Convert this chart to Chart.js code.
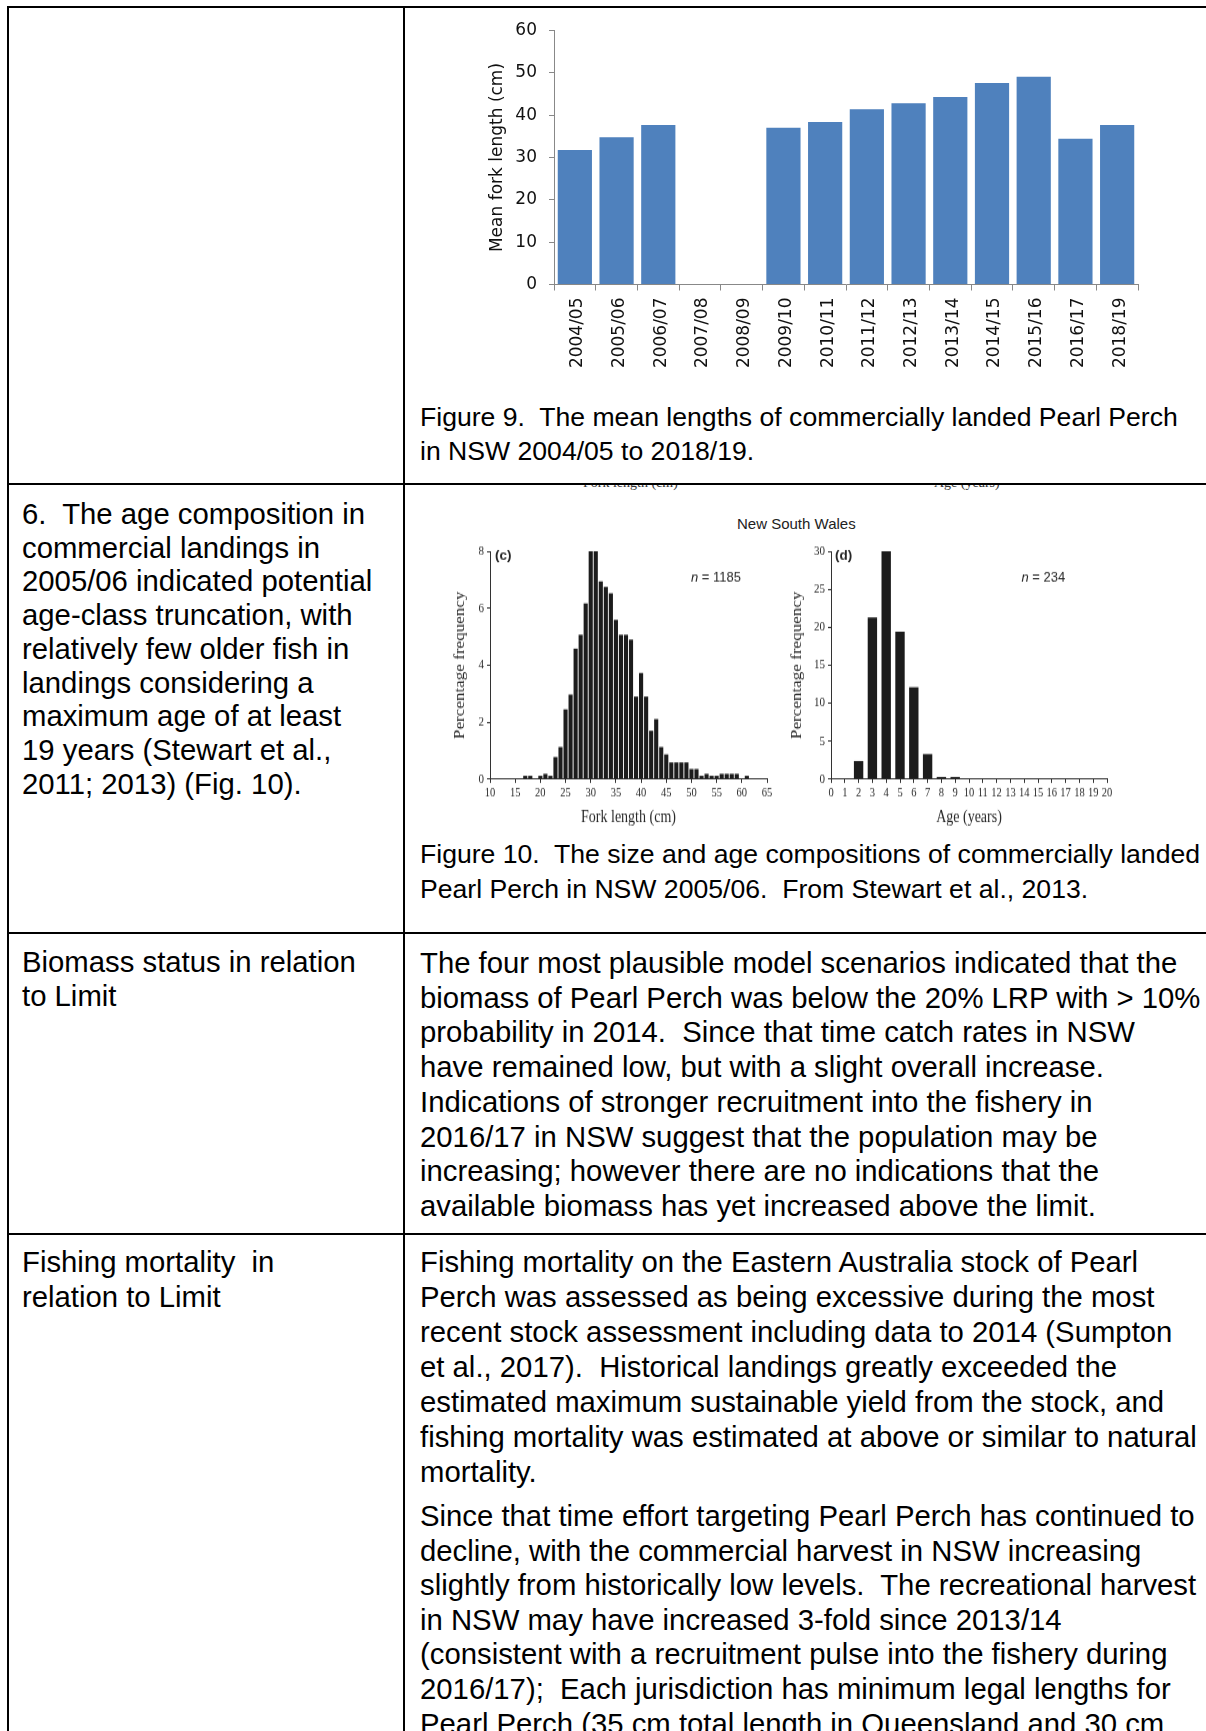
<!DOCTYPE html>
<html lang="en">
<head>
<meta charset="utf-8">
<title>Pearl Perch – NSW stock status</title>
<script src="https://cdn.jsdelivr.net/npm/chart.js@4.4.1/dist/chart.umd.min.js"></script>
<style>
  html, body { margin: 0; padding: 0; background: #fff; }
  body { position: relative; width: 1206px; height: 1731px; overflow: hidden;
         font-family: "Liberation Sans", Arial, sans-serif; color: #000; }
  .rule { position: absolute; background: #000; }
  .para { position: absolute; font-size: 29.3px; white-space: pre; }
  .caption { font-size: 26.6px; }
  .stretch { position: absolute; transform-origin: 0 0; transform: scaleY(1.22); }
  .frag { position: absolute; top: 485px; height: 8px; overflow: hidden; width: 200px; }
  .frag span { position: absolute; left: 0; top: -9px; font-family: "Liberation Serif", serif;
               font-size: 14px; line-height: 14px; color: #333; white-space: nowrap; }
  .region { position: absolute; font-size: 15px; color: #222; white-space: nowrap; }
</style>
</head>
<body>

<!-- table rules -->
<div class="rule" style="left:7px;top:6px;width:1300px;height:2px"></div>
<div class="rule" style="left:7px;top:483px;width:1300px;height:2px"></div>
<div class="rule" style="left:7px;top:932px;width:1300px;height:2px"></div>
<div class="rule" style="left:7px;top:1233px;width:1300px;height:2px"></div>
<div class="rule" style="left:7px;top:6px;width:2px;height:1800px"></div>
<div class="rule" style="left:403px;top:6px;width:2px;height:1800px"></div>

<!-- Figure 9 -->
<canvas id="fig9" width="800" height="380" style="position:absolute;left:404px;top:8px"></canvas>
<div class="para caption" style="left:420px;top:399.5px;line-height:34.2px">Figure 9.  The mean lengths of commercially landed Pearl Perch
in NSW 2004/05 to 2018/19.</div>

<!-- row 2 -->
<div class="para" style="left:22px;top:497px;line-height:33.7px">6.  The age composition in
commercial landings in
2005/06 indicated potential
age-class truncation, with
relatively few older fish in
landings considering a
maximum age of at least
19 years (Stewart et al.,
2011; 2013) (Fig. 10).</div>

<!-- Figure 10 -->
<div class="frag" style="left:583px"><span>Fork length (cm)</span></div>
<div class="frag" style="left:934px"><span>Age (years)</span></div>
<div class="region" style="left:737px;top:515px">New South Wales</div>
<div class="stretch" style="left:440px;top:538.8px;width:335px;height:241px"><canvas id="figC" width="335" height="241"></canvas></div>
<div class="stretch" style="left:780px;top:538.8px;width:338px;height:241px"><canvas id="figD" width="338" height="241"></canvas></div>
<div class="para caption" style="left:420px;top:836.5px;line-height:35px">Figure 10.  The size and age compositions of commercially landed
Pearl Perch in NSW 2005/06.  From Stewart et al., 2013.</div>

<!-- row 3 -->
<div class="para" style="left:22px;top:945px;line-height:34px">Biomass status in relation
to Limit</div>
<div class="para" style="left:420px;top:946px;line-height:34.7px">The four most plausible model scenarios indicated that the
biomass of Pearl Perch was below the 20% LRP with > 10%
probability in 2014.  Since that time catch rates in NSW
have remained low, but with a slight overall increase.
Indications of stronger recruitment into the fishery in
2016/17 in NSW suggest that the population may be
increasing; however there are no indications that the
available biomass has yet increased above the limit.</div>

<!-- row 4 -->
<div class="para" style="left:22px;top:1245px;line-height:34.6px">Fishing mortality  in
relation to Limit</div>
<div class="para" style="left:420px;top:1245px;line-height:34.97px">Fishing mortality on the Eastern Australia stock of Pearl
Perch was assessed as being excessive during the most
recent stock assessment including data to 2014 (Sumpton
et al., 2017).  Historical landings greatly exceeded the
estimated maximum sustainable yield from the stock, and
fishing mortality was estimated at above or similar to natural
mortality.</div>
<div class="para" style="left:420px;top:1499px;line-height:34.6px">Since that time effort targeting Pearl Perch has continued to
decline, with the commercial harvest in NSW increasing
slightly from historically low levels.  The recreational harvest
in NSW may have increased 3-fold since 2013/14
(consistent with a recruitment pulse into the fishery during
2016/17);  Each jurisdiction has minimum legal lengths for
Pearl Perch (35 cm total length in Queensland and 30 cm</div>

<script>
// ---- Figure 9: mean fork length of commercial landings by season ----
const seasons = ['2004/05', '2005/06', '2006/07', '2007/08', '2008/09', '2009/10', '2010/11',
                 '2011/12', '2012/13', '2013/14', '2014/15', '2015/16', '2016/17', '2018/19'];
const meanForkLength = [31.8, 34.8, 37.7, null, null, 37.0, 38.4, 41.4, 42.8, 44.3, 47.6, 49.1, 34.4, 37.7];
const meanLengthTicks = [0, 10, 20, 30, 40, 50, 60];

// ---- Figure 10 (c): fork length composition, 2005/06 (n = 1185) ----
const forkLengthCm = [17, 18, 20, 21, 22, 23, 24, 25, 26, 27, 28, 29, 30, 31, 32, 33, 34, 35, 36, 37, 38, 39,
                      40, 41, 42, 43, 44, 45, 46, 47, 48, 49, 50, 51, 52, 53, 54, 55, 56, 57, 58, 59, 61];
const forkLengthPct = [0.12, 0.12, 0.12, 0.19, 0.12, 0.78, 1.13, 2.45, 2.97, 4.58, 5.07, 6.17, 8.0, 8.0,
                       6.94, 6.75, 6.52, 5.59, 5.07, 5.07, 4.9, 2.9, 3.73, 2.9, 1.7, 2.11, 1.13, 0.87,
                       0.59, 0.59, 0.59, 0.59, 0.36, 0.36, 0.12, 0.19, 0.12, 0.12, 0.19, 0.19, 0.19, 0.19, 0.12];
const forkLengthTicks = [10, 15, 20, 25, 30, 35, 40, 45, 50, 55, 60, 65];
const forkPctTicks = [0, 2, 4, 6, 8];

// ---- Figure 10 (d): age composition, 2005/06 (n = 234) ----
const ageYears = [2, 3, 4, 5, 6, 7, 8, 9];
const agePct = [2.4, 21.3, 30.0, 19.4, 12.1, 3.3, 0.3, 0.3];
const ageTicks = [0, 1, 2, 3, 4, 5, 6, 7, 8, 9, 10, 11, 12, 13, 14, 15, 16, 17, 18, 19, 20];
const agePctTicks = [0, 5, 10, 15, 20, 25, 30];

const STRETCH = 1.22;   // vertical scale applied to the Figure 10 panels

const fixedTicks = list => scale => { scale.ticks = list.map(v => ({ value: v })); };

// Figure 9 --------------------------------------------------------------
const f9Font = { family: '"DejaVu Sans", Verdana, sans-serif', size: 17 };
new Chart(document.getElementById('fig9'), {
  type: 'bar',
  data: {
    labels: seasons,
    datasets: [{
      data: meanForkLength,
      backgroundColor: '#4F81BD',
      categoryPercentage: 1,
      barPercentage: 0.82
    }]
  },
  options: {
    responsive: false,
    animation: false,
    events: [],
    layout: { padding: { left: 79.8, right: 66, top: 22.5, bottom: 0 } },
    plugins: { legend: { display: false }, tooltip: { enabled: false } },
    scales: {
      x: {
        grid: { offset: true, drawOnChartArea: false, tickLength: 6, color: '#888' },
        border: { color: '#888' },
        ticks: { autoSkip: false, minRotation: 90, maxRotation: 90, padding: 7, labelOffset: 3,
                 color: '#111', font: f9Font },
        afterFit: s => { s.height = 103.5; }
      },
      y: {
        min: 0, max: 60,
        afterBuildTicks: fixedTicks(meanLengthTicks),
        grid: { drawOnChartArea: false, tickLength: 5, color: '#888' },
        border: { color: '#888' },
        ticks: { padding: 12, color: '#111', font: f9Font },
        title: { display: true, text: 'Mean fork length (cm)', color: '#111', font: f9Font,
                 padding: { top: 4, bottom: 4 } },
        afterFit: s => { s.width = 70.2; }
      }
    }
  }
});

// Figure 10 panels --------------------------------------------------------
const panelNotes = {
  id: 'panelNotes',
  afterDraw(chart, _args, opts) {
    const { ctx, chartArea } = chart;
    (opts.items || []).forEach(item => {
      ctx.save();
      ctx.translate(chartArea.left + item.dx, chartArea.top + item.dy / STRETCH);
      ctx.scale(1, 1 / STRETCH);
      ctx.textBaseline = 'middle';
      ctx.fillStyle = '#262626';
      let x = 0;
      item.runs.forEach(run => {
        ctx.font = run.font;
        ctx.fillText(run.text, x, 0);
        x += ctx.measureText(run.text).width;
      });
      ctx.restore();
    });
  }
};

const serif = '"Liberation Serif", "Times New Roman", serif';
const sans = '"Liberation Sans", Arial, sans-serif';

function histogram(canvasId, cfg) {
  return new Chart(document.getElementById(canvasId), {
    type: 'bar',
    data: {
      datasets: [{
        data: cfg.xs.map((x, i) => ({ x, y: cfg.ys[i] })),
        backgroundColor: '#1c1c1c',
        categoryPercentage: 1,
        barPercentage: cfg.barPct
      }]
    },
    options: {
      responsive: false,
      animation: false,
      events: [],
      layout: { padding: { left: cfg.padLeft, right: cfg.padRight, top: 10, bottom: 0 } },
      plugins: {
        legend: { display: false },
        tooltip: { enabled: false },
        panelNotes: { items: cfg.notes }
      },
      scales: {
        x: {
          type: 'linear', offset: false,
          min: cfg.xTicks[0], max: cfg.xTicks[cfg.xTicks.length - 1],
          afterBuildTicks: fixedTicks(cfg.xTicks),
          grid: { offset: false, drawOnChartArea: false, tickLength: 3, color: '#333' },
          border: { color: '#333' },
          ticks: { autoSkip: false, maxRotation: 0, padding: 2.2, color: '#2a2a2a',
                   font: { family: serif, size: 10.5 } },
          title: { display: true, text: cfg.xTitle, color: '#2a2a2a',
                   font: { family: serif, size: 14 }, padding: { top: 4, bottom: 4 } },
          afterFit: s => { s.height = cfg.xAxisHeight; }
        },
        y: {
          min: 0, max: cfg.yTicks[cfg.yTicks.length - 1],
          afterBuildTicks: fixedTicks(cfg.yTicks),
          grid: { drawOnChartArea: false, tickLength: 3, color: '#333' },
          border: { color: '#333' },
          ticks: { padding: 3, color: '#2a2a2a', font: { family: serif, size: 11 } },
          title: { display: true, text: 'Percentage frequency', color: '#2a2a2a',
                   font: { family: serif, size: 14 }, padding: { top: 4, bottom: 4 } },
          afterFit: s => { s.width = cfg.yAxisWidth; }
        }
      }
    },
    plugins: [panelNotes]
  });
}

histogram('figC', {
  xs: forkLengthCm, ys: forkLengthPct, barPct: 0.82,
  xTicks: forkLengthTicks, yTicks: forkPctTicks, xTitle: 'Fork length (cm)',
  padLeft: 7.6, padRight: 8, yAxisWidth: 42.4, xAxisHeight: 44.1,
  notes: [
    { dx: 5, dy: 5, runs: [{ text: '(c)', font: 'bold 13.5px ' + sans }] },
    { dx: 201, dy: 27.5, runs: [{ text: 'n', font: 'italic 13px ' + sans }, { text: ' = 1185', font: '13px ' + sans }] }
  ]
});

histogram('figD', {
  xs: ageYears, ys: agePct, barPct: 0.68,
  xTicks: ageTicks, yTicks: agePctTicks, xTitle: 'Age (years)',
  padLeft: 5.1, padRight: 11, yAxisWidth: 45.9, xAxisHeight: 44.1,
  notes: [
    { dx: 4, dy: 5, runs: [{ text: '(d)', font: 'bold 13.5px ' + sans }] },
    { dx: 190.5, dy: 27.5, runs: [{ text: 'n', font: 'italic 13px ' + sans }, { text: ' = 234', font: '13px ' + sans }] }
  ]
});
</script>
</body>
</html>
